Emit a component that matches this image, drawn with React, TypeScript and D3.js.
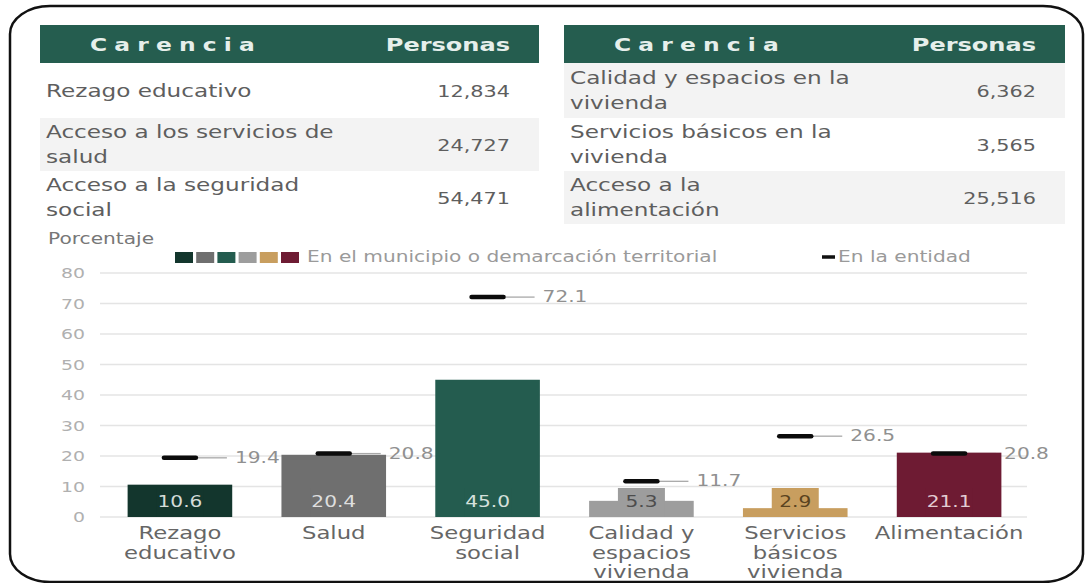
import React from 'react';
import * as d3 from 'd3';

// chart data
const categoryLines = [
  ['Rezago', 'educativo'],
  ['Salud'],
  ['Seguridad', 'social'],
  ['Calidad y', 'espacios', 'vivienda'],
  ['Servicios', 'básicos', 'vivienda'],
  ['Alimentación'],
];
const municipio = [10.6, 20.4, 45.0, 5.3, 2.9, 21.1];
const entidad = [19.4, 20.8, 72.1, 11.7, 26.5, 20.8];
const barColors = ['#13362d', '#6f6f6f', '#245c4f', '#9d9d9d', '#c89e5f', '#6e1b33'];
const barTextColors = ['#d5dcd9', '#dedede', '#d5e0dc', '#4d4d4d', '#5a4320', '#e3cdd3'];
const yTicks = [0, 10, 20, 30, 40, 50, 60, 70, 80];

// tables
const carenciasLeft = [['Rezago educativo'], ['Acceso a los servicios de', 'salud'], ['Acceso a la seguridad', 'social']];
const personasLeft = ['12,834', '24,727', '54,471'];
const carenciasRight = [['Calidad y espacios en la', 'vivienda'], ['Servicios básicos en la', 'vivienda'], ['Acceso a la', 'alimentación']];
const personasRight = ['6,362', '3,565', '25,516'];

const FONT = "'DejaVu Sans', sans-serif";
const SX = 1.3; // the picture is stretched sideways

function T(props: any) {
  const { x, y, anchor = 'start', size = 15, fill = '#666', weight = 'normal', ls = 0, children } = props;
  return (
    <text
      transform={`translate(${x},${y}) scale(${SX},1)`}
      textAnchor={anchor}
      fontSize={size}
      fill={fill}
      fontWeight={weight}
      letterSpacing={ls}
      fontFamily={FONT}
    >
      {children}
    </text>
  );
}

function Table({ x0, x1, labels, values, shade }: any) {
  const headTop = 25, headH = 38;
  const rowTops = [63, 118, 171];
  const rowH = [55, 53, 53];
  return (
    <g>
      <rect x={x0} y={headTop} width={x1 - x0} height={headH} fill="#255d4f" />
      <T x={x0 + 50} y={headTop + 26} size={18} weight="bold" fill="#e6efeb" ls={5.5}>Carencia</T>
      <T x={x1 - 29} y={headTop + 26} size={18.5} weight="bold" fill="#e6efeb" anchor="end">Personas</T>
      {labels.map((lines: string[], i: number) => {
        const cy = rowTops[i] + rowH[i] / 2;
        return (
          <g key={i}>
            {shade[i] && <rect x={x0} y={rowTops[i]} width={x1 - x0} height={rowH[i]} fill="#f3f3f3" />}
            {lines.map((l, j) => (
              <T key={j} x={x0 + 6} y={cy + 6 + (j - (lines.length - 1) / 2) * 25} size={17.8} fill="#5e5e5e">{l}</T>
            ))}
            <T x={x1 - 29} y={cy + 6} size={16} fill="#5e5e5e" anchor="end">{values[i]}</T>
          </g>
        );
      })}
    </g>
  );
}

export default function App() {
  const width = 1085, height = 583;
  const x = d3.scaleBand<number>()
    .domain(municipio.map((_, i) => i))
    .range([103, 1026])
    .paddingInner(0.32)
    .paddingOuter(0.16);
  const y = d3.scaleLinear().domain([0, 80]).range([517, 273]);
  const bw = x.bandwidth();

  return (
    <svg width={width} height={height} style={{ display: 'block', position: 'absolute', left: 0, top: 0 }}>
      <rect width={width} height={height} fill="#fff" />

      <Table x0={40} x1={539} labels={carenciasLeft} values={personasLeft} shade={[false, true, false]} />
      <Table x0={564} x1={1065} labels={carenciasRight} values={personasRight} shade={[true, false, true]} />

      {/* axis */}
      <T x={48} y={244} size={15.5} fill="#777">Porcentaje</T>
      {yTicks.map(t => (
        <g key={t}>
          <line x1={100} x2={1027} y1={y(t)} y2={y(t)} stroke="#e4e4e4" strokeWidth={1.3} />
          <T x={85} y={y(t) + 5} size={14.5} fill="#b0b0b0" anchor="end">{t}</T>
        </g>
      ))}

      {/* legend */}
      {barColors.map((c, i) => (
        <rect key={i} x={175 + i * 21.2} y={252} width={18} height={11} fill={c} />
      ))}
      <T x={307} y={262} size={15.5} fill="#9a9a9a">En el municipio o demarcación territorial</T>
      <line x1={822} x2={835} y1={257} y2={257} stroke="#111" strokeWidth={3.5} />
      <T x={838} y={262} size={15.5} fill="#9a9a9a">En la entidad</T>

      {/* connector lines behind bars */}
      {entidad.map((v, i) => {
        const cx = x(i)! + bw / 2;
        return <line key={i} x1={cx + 18} x2={cx + 47} y1={y(v)} y2={y(v)} stroke="#a8a8a8" strokeWidth={1.3} />;
      })}

      {/* bars */}
      {municipio.map((v, i) => {
        const cx = x(i)! + bw / 2;
        return (
          <g key={i}>
            <rect x={x(i)} y={y(v)} width={bw} height={y(0) - y(v)} fill={barColors[i]} />
            <rect x={cx - 23.5} y={y(0) - 29} width={47} height={29} fill={barColors[i]} />
            <T x={cx} y={y(0) - 10} size={15.5} fill={barTextColors[i]} anchor="middle">{v.toFixed(1)}</T>
          </g>
        );
      })}

      {/* entity markers */}
      {entidad.map((v, i) => {
        const cx = x(i)! + bw / 2;
        return (
          <g key={i}>
            <line x1={cx - 16} x2={cx + 16} y1={y(v)} y2={y(v)} stroke="#0b0b0b" strokeWidth={4.5} strokeLinecap="round" />
            <T x={cx + 55} y={y(v) + 5} size={15.5} fill="#909090">{v.toFixed(1)}</T>
          </g>
        );
      })}

      {/* category labels */}
      {categoryLines.map((lines, i) => {
        const cx = x(i)! + bw / 2;
        return lines.map((l, j) => (
          <T key={i + '-' + j} x={cx} y={y(0) + 22 + j * 19.5} size={17.5} fill="#666" anchor="middle">{l}</T>
        ));
      })}

      {/* frame */}
      <rect x={10} y={6} width={1073} height={576} rx={40} ry={28} fill="none" stroke="#111" strokeWidth={2.5} />
    </svg>
  );
}
